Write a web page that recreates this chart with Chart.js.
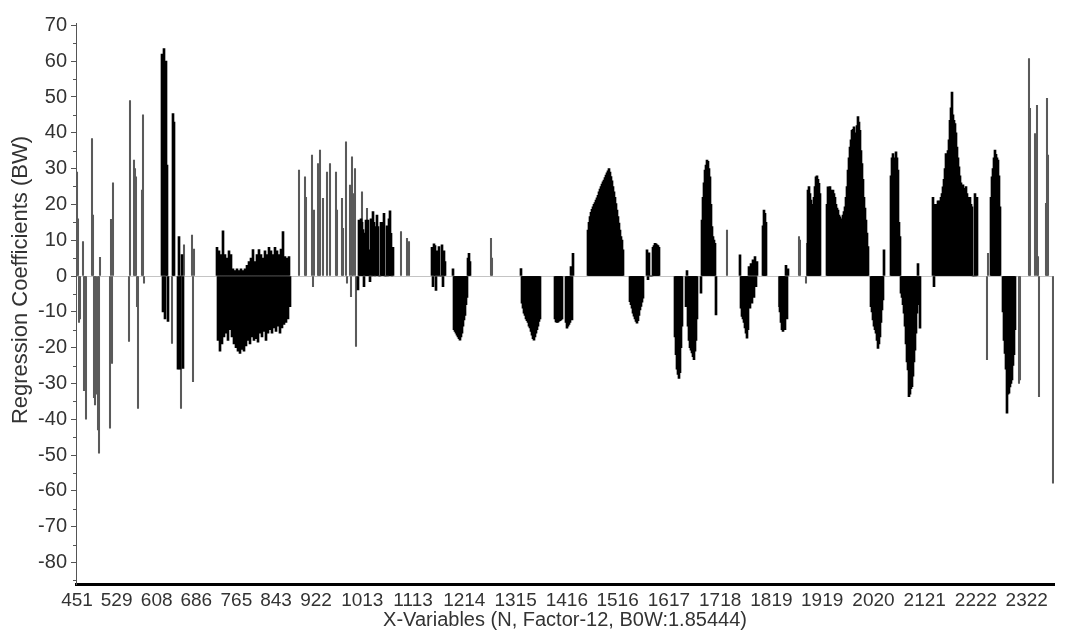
<!DOCTYPE html>
<html>
<head>
<meta charset="utf-8">
<title>Regression Coefficients (BW)</title>
<script src="https://cdn.jsdelivr.net/npm/chart.js@4/dist/chart.umd.min.js"></script>
<style>
  html, body { margin: 0; padding: 0; background: #fff; }
  #wrap { width: 1065px; height: 634px; position: relative; }
</style>
</head>
<body>
<div id="wrap"><canvas id="chart"></canvas></div>
<script>
// Spectral grid: variable k sits at firstNm + k * stepNm
const firstNm = 451;
const stepNm = 1.97;

// Wavelength labels shown along the x axis
const tickNm = [451, 529, 608, 686, 765, 843, 922, 1013, 1113, 1214, 1315, 1416,
                1516, 1617, 1718, 1819, 1919, 2020, 2121, 2222, 2322];

// Isolated variables (drawn as thin lines): variable number and coefficient
const lineVar = [0, 1, 2, 3, 6, 7, 8, 9, 15, 16, 17, 18, 19, 21, 22, 23, 33, 34, 35, 36,
                 52, 53, 57, 58, 59, 60, 61, 65, 66, 67, 95, 104, 107, 115, 116, 117,
                 222, 228, 229, 235, 236, 237, 241, 242, 243, 246, 250, 253, 259, 260,
                 265, 266, 269, 270, 273, 274, 275, 276, 278, 279, 285, 290, 324, 330, 332,
                 414, 415, 650, 702, 722, 723, 729, 730, 910, 911, 942, 943,
                 952, 953, 958, 960, 961, 962, 969, 970, 971, 976];
const lineCoef = [29, 16, -13, -12, 9.6, -32, -15.5, -40, 38.4, 17, -34, -36, -33, -43, -49.5, 5.2, -42.5, 15.8, -24.4, 26,
                  -18.3, 49, 32.4, 30, 27.7, -8.6, -37, 24, 45, -2, -18.8, -37, 8.7, 11.4, -29.5, 7.5,
                  29.6, 27.7, 22, 33.8, -3, 18.4, 31.4, 25.9, 35.2, 21.7, 29, 31.4, 29, 18.4,
                  21.7, 13.3, 37.5, -2, 25.4, -5.8, 33.3, 23, 30, -19.7, 23.5, 18.9, 12.4, 10.5, 9.6,
                  10.5, 5, 12.8, -8.6, 11, 10, -2, 9.1, -23.4, 6.3, -30, -29,
                  60.7, 46.8, 39.8, 47.7, 5.4, -33.7, 20.3, 49.6, 33.8, -57.9];

// Runs of neighbouring variables (drawn solid): first variable of each run
const segStart = [85, 96, 101, 140, 281, 355, 376, 444, 478, 489, 511, 553, 570, 598,
                  609, 624, 663, 686, 703, 731, 750, 794, 814, 824, 856, 914, 926];

const seg085 = [62, -10, 63.5, -12, 60, 31, -12.7];
const seg096 = [45.4, 43];
const seg101 = [-26, 11, -26, 0, 6, -25.8];
const seg140 = [8, -18, 7, -21, 6, -19, 12.6, -17, 6, -16, 5, -18, 7, -15, 6, -17,
                2, -19, 1.5, -20, 2, -21, 1.5, -21.6, 2, -20.5, 1.5, -21, 2, -19.5,
                3, -18, 4, -19, 5, -17, 7.4, -18, 4, -17.5, 6, -18.5,
                7.4, -16, 6, -17, 5, -15.5, 7, -18, 6, -16, 8, -15,
                7, -16, 6, -14.5, 8, -15.5, 7, -14, 6, -16, 7.5, -14.5, 12.4, -13.5,
                5.4, -13, 5, -12, 5.4, -8.6];
const seg281 = [-3.9, 15.6, 14, 16, 15, 13, -3, 12, 15.6, 14, 15.6, 7.3, -1.6, 16, 0, 18, 15, 0,
                13.8, 17, 13.8, 0, 0, 15, 12, 15, 17.5, 0, 0, 14, 0, 16, 18.2, 11.9, 0, 8];
const seg355 = [8, -3, 9, 8.5, -4, 7, 0, 8.2, 0, 0, 8.7, -3, 7, 4];
const seg376 = [2, -15, -15.5, -16, -16.5, -17, -17.5, -17.9, -17, -16, -14, -12.3, -11, -8, -6, 5, 6.3, 4];
const seg444 = [2.1, -7.6, -9, -10.4, -11, -12, -12.5, -13, -14, -14.5, -15.5, -16.5, -17.5, -17.9,
                -17, -16, -15, -14, -12.7, -12];
const seg478 = [-12, -12.8, -13, -12.9, -12.6, -12.5, -12.3, -12];
const seg489 = [-13, -14.6, -14, -13.5, -13, 2.6, -12.3, 6.3];
const seg511 = [12.8, 15, 16.6, 17.8, 18.6, 19.3, 20, 20.5, 21.2, 21.8, 22.5, 23.5, 24.3, 25, 25.7, 26.3,
                26.8, 27.5, 28.2, 28.8, 29.4, 30, 29, 27.8, 26.6, 25, 23.5, 22, 20.2, 18.4, 16.6, 14.8,
                12.8, 11, 10, 7.3];
const seg553 = [-7.2, -8, -9, -10.4, -11.2, -12, -12.7, -13.2, -12.5, -11, -9.5, -8.5, -7.3, -6.2];
const seg570 = [7.3, -1, 6.5, 0, 0, 0, 8, 8.5, 9.1, 9, 8.7, 8.5, 8];
const seg598 = [-17, -22, -26, -27.5, -28.6, -27, -20, -14];
const seg609 = [-8.6, 1.5, -14, -18, -20, -20.7, -21.5, -22.5, -23.4, -21, -18, -12];
const seg624 = [-4.8, 15.6, 22, 26, 29.6, 31, 32.4, 32, 30, 27.7, 20, 13.8, 11, 10, 9.1, -10.9];
const seg663 = [5.9, -9, -11.3, -12, -13, -14.5, -16, -17.4, -15, 2.6, -9, 3.5, -7.6, 4.5, -6, 5.4, -3, 4];
const seg686 = [14, 18.4, 17.5, 15];
const seg703 = [-10, -13, -15, -15.5, -14, -15, 3, -12, 2];
const seg731 = [24, 25, 23, 21.2, 20, 19, 22, 25, 27.7, 28, 27, 25.9, 23];
const seg750 = [20, 24.9, 24, 25, 24, 23.5, 24, 23, 22, 20, 19, 18.4, 17, 16.5, 15.6, 16, 17, 18, 19.3, 22,
                25, 29.6, 33, 36, 38, 40.7, 41, 41.7, 40, 38.9, 42, 44.5, 43, 40.7, 35, 31.4, 27, 22, 19,
                15.6, 12, 8.2];
const seg794 = [-8.6, -10, -12.3, -14, -15, -16, -18, -20.2, -19, -17, -13, -9.5, -6.7, 7.3];
const seg814 = [28, 33, 34.2, 33, 32, 34.7, 33, 29.6, 15, 11];
const seg824 = [-4.8, -6, -8, -10.4, -14, -19, -24, -26.2, -33.7, -33, -31.5, -30.9, -28, -24, -20.7,
                -16, -10.4, 3.5, -8, -14.6];
const seg856 = [22, -3, 20, 19.3, 20, 21, 19, 21, 22, 23, 24.9, 27, 30, 34.2, 33, 35, 38, 43.5, 47, 51.4,
                45, 43.5, 42.6, 40, 36, 33, 30.5, 28, 26, 24.9, 25.5, 24.5, 24, 25, 23, 22, 21.2, 22, 20,
                19.3, 0, 0, 23, 0, 22];
const seg914 = [22, 27.7, 30, 33, 35.2, 34, 33, 32.4, 28, 19.3];
const seg926 = [-10, -18, -21.6, -26, -38.3, -33, -32.7, -31, -30, -29, -25, -22, -15];

const segCoef = [seg085, seg096, seg101, seg140, seg281, seg355, seg376, seg444, seg478, seg489,
                 seg511, seg553, seg570, seg598, seg609, seg624, seg663, seg686, seg703, seg731,
                 seg750, seg794, seg814, seg824, seg856, seg914, seg926];

const toNm = k => firstNm + stepNm * k;

const linePoints = lineVar.map((k, n) => ({ x: toNm(k), y: lineCoef[n] }));
const segPoints = [];
segStart.forEach((start, n) => {
  segCoef[n].forEach((c, j) => segPoints.push({ x: toNm(start + j), y: c }));
});

const FONT = '"Liberation Sans", Arial, Helvetica, sans-serif';
const TEXT = '#333';

// Short minor ticks on the y axis and the rotated y-axis caption
const axisDecor = {
  id: 'axisDecor',
  afterDraw(chart) {
    const { ctx, chartArea, scales: { y } } = chart;
    ctx.save();
    ctx.strokeStyle = '#555';
    ctx.lineWidth = 1;
    for (let v = -85; v <= 70; v += 10) {
      const py = Math.round(y.getPixelForValue(v)) + 0.5;
      ctx.beginPath();
      ctx.moveTo(chartArea.left - 3, py);
      ctx.lineTo(chartArea.left, py);
      ctx.stroke();
    }
    ctx.fillStyle = TEXT;
    ctx.font = '22px ' + FONT;
    ctx.textAlign = 'center';
    ctx.textBaseline = 'middle';
    ctx.translate(21, 280);
    ctx.rotate(-Math.PI / 2);
    ctx.fillText('Regression Coefficients (BW)', 0, 0);
    ctx.restore();
  }
};

new Chart(document.getElementById('chart'), {
  type: 'bar',
  data: {
    datasets: [
      { data: segPoints, backgroundColor: '#000', barThickness: 2, grouped: false, borderWidth: 0 },
      { data: linePoints, backgroundColor: '#5a5a5a', barThickness: 1.4, grouped: false, borderWidth: 0 }
    ]
  },
  options: {
    responsive: true,
    maintainAspectRatio: false,
    animation: false,
    layout: { padding: { left: 0, top: 23.6, right: 11, bottom: 0 } },
    plugins: { legend: { display: false }, tooltip: { enabled: false } },
    scales: {
      x: {
        type: 'linear',
        offset: false,
        min: firstNm - stepNm,
        max: 2375.7,
        afterFit: s => { s.height = 50; },
        afterBuildTicks: s => { s.ticks = tickNm.map(v => ({ value: v })); },
        grid: { display: false, drawTicks: false, offset: false },
        border: { display: true, color: '#000', width: 3 },
        ticks: {
          autoSkip: false, maxRotation: 0, minRotation: 0, padding: 5,
          color: TEXT, font: { family: FONT, size: 19 },
          callback: v => String(v)
        },
        title: {
          display: true,
          text: 'X-Variables (N, Factor-12, B0W:1.85444)',
          color: TEXT, font: { family: FONT, size: 20 },
          padding: { top: 0, bottom: 2 }
        }
      },
      y: {
        min: -86.03,
        max: 70.5,
        afterFit: s => { s.width = 76; },
        ticks: {
          stepSize: 10, includeBounds: false, padding: 4,
          color: TEXT, font: { family: FONT, size: 20 }
        },
        grid: {
          color: c => (c.tick && c.tick.value === 0) ? '#c4c4c4' : 'rgba(0,0,0,0)',
          tickColor: '#555', tickLength: 5, drawTicks: true
        },
        border: { display: true, color: '#555', width: 1 }
      }
    }
  },
  plugins: [axisDecor]
});
</script>
</body>
</html>
